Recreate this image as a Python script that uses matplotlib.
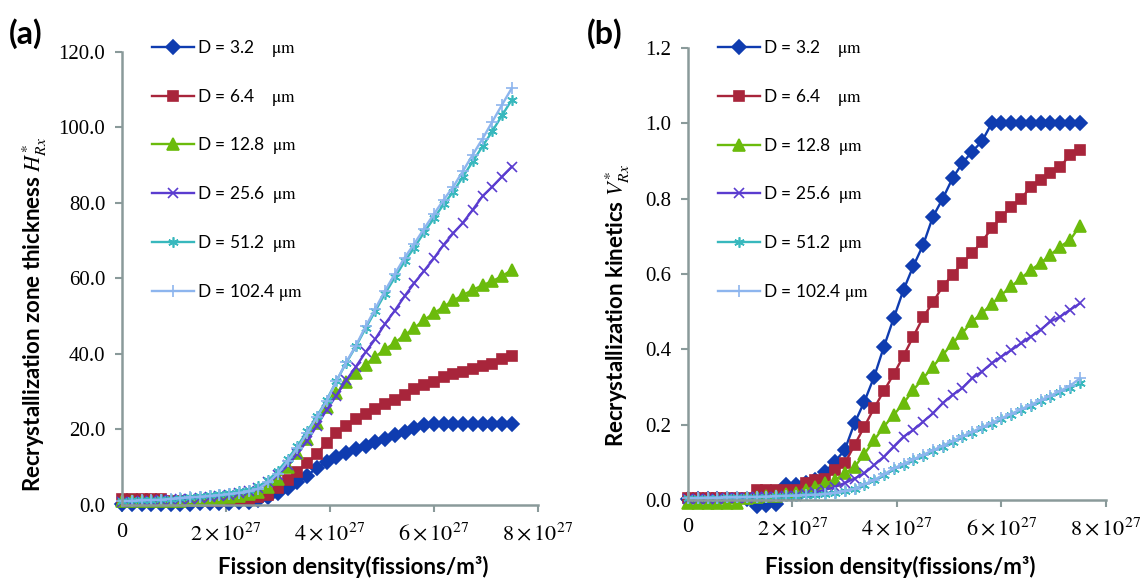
import numpy as np
import matplotlib
matplotlib.use("Agg")
import matplotlib.pyplot as plt

plt.rcParams["font.family"] = "Liberation Serif"
plt.rcParams["mathtext.fontset"] = "stix"

# Fission density grid (x 1e27 fissions/m3)
fission = np.linspace(0, 7.5, 41)

# Grain sizes (legend)
sizes = ["3.2", "6.4", "12.8", "25.6", "51.2", "102.4"]
pads = ["    ", "    ", "  ", "  ", "  ", " "]

# (a) recrystallization zone thickness
h_32 = [0.3, 0.3, 0.3, 0.3, 0.3, 0.3, 0.3, 0.3, 0.4, 0.4, 0.5, 0.6, 0.8, 0.9, 1.3, 2.2,
        3.1, 4.4, 6.0, 7.8, 9.8, 11.5, 12.6, 13.9, 14.7, 15.6, 16.7, 17.6, 18.5, 19.4,
        20.3, 21.2, 21.5, 21.4, 21.4, 21.5, 21.4, 21.4, 21.4, 21.4, 21.4]
h_64 = [1.5, 1.5, 1.5, 1.5, 1.5, 1.0, 1.0, 1.0, 1.0, 1.0, 1.1, 1.2, 1.4, 1.7, 2.0, 2.7,
        4.4, 6.6, 8.8, 11.0, 13.5, 16.5, 19.0, 21.0, 22.7, 24.1, 25.5, 26.7, 27.9, 29.2,
        30.6, 31.8, 32.7, 34.0, 34.7, 35.3, 36.1, 36.8, 37.4, 38.7, 39.5]
h_128 = [1.0, 1.0, 1.0, 1.0, 1.0, 1.0, 1.0, 1.2, 1.4, 1.6, 1.9, 2.1, 2.4, 2.8, 3.5, 4.8,
         7.0, 10.0, 13.8, 17.5, 21.8, 26.0, 29.6, 32.7, 35.0, 37.2, 39.3, 41.2, 43.0, 45.0,
         46.9, 49.0, 50.8, 52.5, 54.2, 55.6, 57.0, 58.2, 59.3, 60.6, 62.3]
h_256 = [0.8, 0.9, 1.0, 1.1, 1.2, 1.3, 1.5, 1.7, 1.9, 2.1, 2.4, 2.7, 3.1, 3.7, 4.6, 6.0,
         8.0, 10.5, 13.6, 17.0, 21.0, 25.2, 29.0, 33.0, 36.6, 40.5, 44.0, 48.0, 51.5, 55.3,
         58.8, 62.0, 65.3, 68.9, 72.0, 74.8, 78.2, 81.8, 84.3, 87.0, 89.6]
h_512 = [1.1, 1.2, 1.3, 1.4, 1.5, 1.7, 1.9, 2.1, 2.3, 2.6, 2.9, 3.2, 3.6, 4.1, 4.9, 6.6,
         9.0, 12.2, 15.6, 19.5, 23.5, 27.8, 32.8, 37.6, 42.0, 46.8, 51.4, 56.0, 60.3, 64.5,
         68.2, 72.2, 75.9, 79.6, 83.0, 87.0, 91.0, 95.0, 99.0, 103.2, 107.3]
h_1024 = [1.0, 1.1, 1.2, 1.3, 1.4, 1.6, 1.8, 2.0, 2.2, 2.4, 2.6, 2.9, 3.2, 3.6, 4.3, 6.0,
          8.3, 11.6, 15.0, 19.0, 23.2, 27.5, 32.8, 37.8, 42.2, 47.3, 52.0, 56.8, 61.2, 65.5,
          69.2, 73.2, 77.0, 80.8, 84.3, 88.5, 92.8, 97.0, 101.5, 106.0, 110.4]

# (b) recrystallization kinetics
v_32 = [0.003, 0.003, 0.003, 0.003, 0.003, 0.003, 0.003, -0.015, -0.012, -0.01, 0.04, 0.04,
        0.044, 0.053, 0.075, 0.102, 0.133, 0.204, 0.261, 0.327, 0.407, 0.483, 0.558, 0.621,
        0.677, 0.752, 0.80, 0.854, 0.894, 0.925, 0.952, 1.0, 1.0, 1.0, 1.0, 1.0, 1.0, 1.0,
        1.0, 1.0, 1.0]
v_64 = [0.005, 0.005, 0.005, 0.005, 0.005, 0.005, 0.005, 0.027, 0.027, 0.027, 0.027, 0.027,
        0.044, 0.053, 0.055, 0.08, 0.097, 0.146, 0.195, 0.244, 0.290, 0.334, 0.383, 0.434,
        0.485, 0.525, 0.567, 0.598, 0.629, 0.655, 0.686, 0.721, 0.752, 0.779, 0.80, 0.832,
        0.85, 0.868, 0.885, 0.916, 0.93]
v_128 = [-0.008, -0.008, -0.008, -0.008, -0.008, -0.008, 0.005, 0.008, 0.01, 0.012, 0.015,
         0.018, 0.027, 0.035, 0.044, 0.053, 0.071, 0.088, 0.122, 0.159, 0.195, 0.226, 0.257,
         0.292, 0.323, 0.354, 0.385, 0.416, 0.443, 0.474, 0.496, 0.52, 0.545, 0.567, 0.589,
         0.611, 0.629, 0.651, 0.673, 0.69, 0.728]
v_256 = [0.003, 0.003, 0.004, 0.004, 0.005, 0.005, 0.006, 0.007, 0.008, 0.009, 0.01, 0.012,
         0.015, 0.02, 0.027, 0.035, 0.045, 0.057, 0.071, 0.093, 0.115, 0.142, 0.168, 0.186,
         0.208, 0.23, 0.257, 0.279, 0.297, 0.323, 0.341, 0.363, 0.381, 0.398, 0.416, 0.434,
         0.452, 0.474, 0.487, 0.505, 0.522]
v_512 = [0.005, 0.005, 0.006, 0.006, 0.007, 0.007, 0.008, 0.008, 0.009, 0.01, 0.011, 0.012,
         0.013, 0.014, 0.016, 0.019, 0.024, 0.03, 0.041, 0.052, 0.066, 0.082, 0.094, 0.106,
         0.118, 0.13, 0.142, 0.155, 0.167, 0.179, 0.191, 0.202, 0.214, 0.226, 0.238, 0.250,
         0.262, 0.274, 0.286, 0.298, 0.31]
v_1024 = [0.005, 0.005, 0.006, 0.006, 0.007, 0.007, 0.008, 0.008, 0.009, 0.01, 0.011, 0.012,
          0.013, 0.014, 0.016, 0.019, 0.024, 0.03, 0.042, 0.053, 0.068, 0.084, 0.096, 0.108,
          0.12, 0.132, 0.144, 0.157, 0.169, 0.181, 0.193, 0.205, 0.217, 0.229, 0.241, 0.253,
          0.265, 0.277, 0.29, 0.303, 0.323]

colors = ["#0f3cb0", "#a8253b", "#6bbb0c", "#5a3ccf", "#38b8bd", "#8db5ee"]
markers = ["D", "s", "^", "x", (6, 2, 0), "+"]
msizes = [7.5, 7.5, 9, 7.5, 7.5, 8.5]
axis_color = "#8a9a9a"
sans = "Lato"


def draw_panel(ax, series, yticks, ylabel, leg_y):
    for i, ys in enumerate(series):
        ax.plot(fission, ys, color=colors[i], marker=markers[i], ms=msizes[i],
                mew=1.2, lw=1.7, clip_on=False,
                label="D = " + sizes[i] + pads[i] + r"$\mathrm{\mu m}$")
    ax.set_xlim(0, 8)
    ax.set_ylim(yticks[0], yticks[-1])
    ax.set_xticks([0, 2, 4, 6, 8])
    ax.set_xticklabels(["0"] + [r"$%d\times10^{27}$" % k for k in (2, 4, 6, 8)])
    ax.set_yticks(yticks)
    ax.set_yticklabels(["%.1f" % v for v in yticks])
    for side in ["top", "right"]:
        ax.spines[side].set_visible(False)
    for side in ["left", "bottom"]:
        ax.spines[side].set_color(axis_color)
        ax.spines[side].set_linewidth(1.8)
    ax.tick_params(colors=axis_color, labelcolor="black", length=5, width=1.5,
                   labelsize=15)
    ax.tick_params(axis="x", pad=8, labelsize=16)
    ax.tick_params(axis="y", pad=7)
    ax.set_ylabel(ylabel, fontsize=16, fontweight="bold", family=sans)
    ax.set_xlabel("Fission density(fissions/m³)", fontsize=16, fontweight="bold",
                  family=sans)
    leg = ax.legend(loc="upper left", bbox_to_anchor=(0.072, leg_y), frameon=False,
                    prop={"family": sans, "size": 12.5}, handlelength=2.4,
                    handletextpad=0.2, labelspacing=1.6, borderpad=0,
                    borderaxespad=0)
    return leg


fig = plt.figure(figsize=(11.48, 5.84), dpi=100)
ax1 = fig.add_axes([0.1063, 0.1353, 0.3621, 0.7757])
ax2 = fig.add_axes([0.5993, 0.1438, 0.3641, 0.7740])

draw_panel(ax1, [h_32, h_64, h_128, h_256, h_512, h_1024],
           [0, 20, 40, 60, 80, 100, 120],
           r"Recrystallization zone thickness $H^{*}_{Rx}$", 1.031)
draw_panel(ax2, [v_32, v_64, v_128, v_256, v_512, v_1024],
           [0.0, 0.2, 0.4, 0.6, 0.8, 1.0, 1.2],
           r"Recrystallization kinetics $V^{*}_{Rx}$", 1.022)

ax1.yaxis.set_label_coords(-0.176, 0.42)
ax2.yaxis.set_label_coords(-0.133, 0.43)
ax1.xaxis.set_label_coords(0.556, -0.113)
ax2.xaxis.set_label_coords(0.507, -0.124)

fig.text(0.008, 0.968, "(a)", fontsize=23, fontweight="bold", family=sans, va="top")
fig.text(0.511, 0.968, "(b)", fontsize=23, fontweight="bold", family=sans, va="top")

fig.savefig("out.png", dpi=100)
